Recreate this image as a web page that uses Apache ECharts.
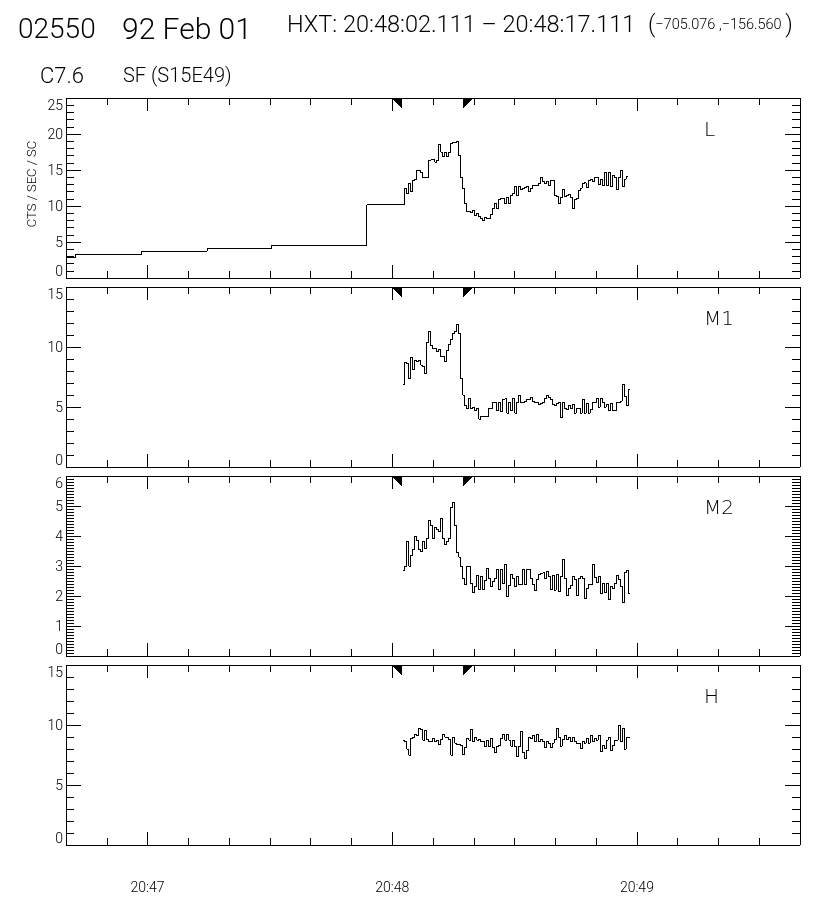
<!DOCTYPE html>
<html><head><meta charset="utf-8">
<script src="https://cdn.jsdelivr.net/npm/echarts@6/dist/echarts.min.js"></script>
<style>html,body{margin:0;padding:0;background:#fff}#c{width:816px;height:900px}
#c svg{will-change:transform}
#c svg path{shape-rendering:crispEdges}</style>
</head><body><div id="c"></div>
<script>
// ---- time axis (seconds after 20:46:00) ----
const X_MIN = 40, X_MAX = 220;              // 20:46:40 .. 20:49:40
const MAJOR_TICKS = [60, 120, 180];          // 20:47, 20:48, 20:49
const MAJOR_LABELS = ['20:47', '20:48', '20:49'];
const MINOR_TICKS = [50, 70, 80, 90, 100, 110, 130, 140, 150, 160, 170, 190, 200, 210];
const ACC_START = 122.111, ACC_END = 137.111; // HXT accumulation interval

// ---- L channel, quiet-mode (long) bins ----
const L_QUIET_TIMES  = [40, 42.3, 58.5, 74.6, 90.4, 113.8];
const L_QUIET_VALUES = [2.78, 3.24, 3.75, 4.07, 4.49, 10.14];

// ---- flare-mode bins ----
const BIN = 0.49;
const L_T0 = 123.04;
const L_VALUES = [12.5, 11.7, 13.1, 12.0, 13.6, 13.75, 15.0, 15.0, 14.6, 14.0,
  14.0, 14.0, 16.3, 16.4, 16.5, 16.1, 16.3, 18.5, 17.5, 16.9,
  17.5, 16.9, 17.5, 18.75, 18.8, 18.8, 18.9, 17.0, 13.9, 12.4,
  10.3, 9.2, 9.2, 9.1, 9.4, 8.7, 8.9, 8.6, 8.3, 8.0,
  8.4, 8.2, 8.2, 8.8, 9.6, 10.4, 9.7, 10.9, 11.1, 11.1,
  10.4, 11.25, 10.3, 11.5, 11.7, 12.7, 11.5, 12.7, 12.3, 12.45,
  12.6, 12.7, 12.0, 12.4, 12.8, 12.8, 12.9, 13.1, 14.0, 13.4,
  13.1, 13.4, 12.9, 13.5, 13.5, 11.5, 11.3, 10.3, 11.2, 12.3,
  11.3, 11.4, 11.6, 11.25, 9.7, 10.9, 11.0, 12.1, 12.5, 13.1,
  13.2, 12.6, 13.6, 13.7, 13.4, 14.0, 14.0, 13.0, 13.7, 12.8,
  14.6, 12.8, 14.7, 12.7, 14.3, 13.9, 12.3, 13.9, 14.9, 12.7, 13.75, 14.1];

const M_T0 = 122.55;
const M1_VALUES = [6.9,
  8.7, 8.6, 7.4, 9.1, 8.1, 8.9, 8.8, 8.9, 8.5, 8.4,
  7.8, 10.4, 11.3, 10.1, 9.9, 9.9, 9.6, 9.8, 9.2, 9.2,
  8.8, 9.75, 10.2, 10.6, 11.1, 11.3, 11.9, 11.1, 7.4, 6.0,
  5.15, 4.9, 5.7, 4.9, 5.0, 4.7, 4.9, 4.0, 4.2, 4.2,
  4.2, 4.2, 4.9, 4.9, 5.4, 5.4, 4.7, 5.4, 4.6, 5.65,
  5.7, 4.5, 5.35, 4.7, 5.7, 4.5, 5.35, 6.0, 5.35, 5.4,
  5.5, 5.6, 5.6, 5.8, 5.5, 5.4, 5.35, 5.2, 5.3, 5.4,
  5.7, 6.0, 5.8, 5.65, 5.25, 5.15, 5.3, 5.4, 4.1, 5.35,
  4.9, 4.8, 5.1, 4.9, 5.25, 4.5, 4.9, 4.9, 4.5, 5.6,
  4.5, 5.3, 4.5, 4.8, 5.35, 5.4, 5.7, 5.0, 5.7, 5.35,
  5.0, 5.25, 4.7, 5.3, 4.7, 4.7, 5.35, 5.4, 5.5, 6.9, 5.85, 5.1, 6.5];

const M2_VALUES = [2.84,
  2.98, 3.82, 3.0, 3.34, 3.54, 3.99, 3.84, 3.54, 3.49, 3.82,
  3.58, 3.93, 4.53, 4.35, 3.93, 4.29, 4.23, 4.16, 4.57, 3.93,
  3.71, 3.82, 3.93, 4.94, 5.11, 4.35, 3.45, 3.3, 2.98, 2.59,
  2.39, 2.98, 3.0, 2.42, 2.11, 2.31, 2.7, 2.23, 2.65, 2.22,
  2.51, 2.93, 2.59, 2.31, 2.48, 2.59, 2.87, 2.22, 2.9, 2.42,
  3.06, 1.98, 2.34, 2.73, 2.59, 2.31, 2.65, 2.37, 2.37, 2.87,
  2.37, 2.87, 2.89, 2.59, 2.37, 2.18, 2.54, 2.73, 2.76, 2.78,
  2.59, 2.82, 2.65, 2.22, 2.7, 2.2, 2.73, 2.15, 2.65, 3.21,
  2.59, 2.03, 2.26, 2.34, 2.65, 2.56, 2.03, 2.59, 2.65, 2.59,
  1.92, 2.26, 2.37, 2.37, 3.04, 2.61, 2.45, 2.65, 2.09, 2.42,
  2.11, 2.42, 1.87, 2.31, 2.26, 2.42, 2.67, 2.54, 2.31, 1.78, 2.78, 2.84, 2.09];

const H_VALUES = [8.75,
  8.6, 8.0, 7.5, 8.9, 9.0, 9.2, 9.1, 9.7, 9.6, 8.75,
  9.55, 8.8, 8.6, 8.65, 8.9, 8.65, 8.75, 8.4, 8.8, 9.2,
  9.0, 9.0, 8.8, 7.5, 9.0, 8.5, 8.4, 8.4, 8.3, 7.55,
  8.1, 8.9, 8.75, 9.6, 8.65, 9.0, 8.75, 8.8, 8.6, 8.65,
  8.2, 8.75, 8.2, 8.9, 8.1, 7.7, 8.2, 8.3, 8.9, 9.25,
  8.75, 9.2, 8.75, 8.25, 8.75, 8.2, 7.4, 8.25, 9.45, 7.7,
  7.2, 7.9, 9.0, 8.9, 9.1, 8.6, 9.25, 8.6, 8.8, 8.6,
  8.1, 8.6, 8.5, 8.1, 8.5, 8.8, 9.7, 9.0, 8.25, 8.8,
  9.1, 8.8, 9.0, 8.6, 9.0, 8.6, 8.5, 8.5, 8.05, 8.6,
  8.5, 8.9, 8.5, 9.1, 8.6, 8.9, 8.75, 9.1, 7.8, 8.3,
  8.05, 8.75, 9.0, 7.9, 8.3, 8.75, 8.75, 10.0, 8.6, 9.7, 8.0, 9.0, 9.0];

const PANEL_NAMES = ['L', 'M1', 'M2', 'H'];
const Y_MAX = [25, 15, 6, 15];
const Y_INTERVAL = [5, 5, 1, 5];
const Y_MINOR_SPLIT = [5, 5, 10, 5];

// ---- layout ----
const GRID_LEFT = 66, GRID_WIDTH = 734, GRID_HEIGHT = 180;
const GRID_TOPS = [98, 287, 476, 665];
const FONT = 'DejaVu Sans';
const TITLE_FONT = 'Roboto';
const LW = 1;

function stepData(t0, values) {
  const d = values.map((v, i) => [t0 + i * BIN, v]);
  d.push([t0 + values.length * BIN, values[values.length - 1]]);
  return d;
}
const SERIES_DATA = [
  L_QUIET_TIMES.map((t, i) => [t, L_QUIET_VALUES[i]]).concat(stepData(L_T0, L_VALUES)),
  stepData(M_T0, M1_VALUES),
  stepData(M_T0, M2_VALUES),
  stepData(M_T0, H_VALUES)
];

const lineStyle = {color: '#000', width: LW};
const grids = [], xAxes = [], yAxes = [], series = [], graphics = [];

GRID_TOPS.forEach((top, i) => {
  grids.push({left: GRID_LEFT, width: GRID_WIDTH, top: top, height: GRID_HEIGHT, containLabel: false});
  const baseX = {gridIndex: i, type: 'value', min: X_MIN, max: X_MAX, splitLine: {show: false}, silent: true};
  ['bottom', 'top'].forEach(pos => {
    xAxes.push(Object.assign({}, baseX, {
      position: pos,
      axisLine: {show: true, onZero: false, lineStyle},
      axisTick: {show: true, inside: true, length: 13, customValues: MAJOR_TICKS, lineStyle},
      axisLabel: {show: pos === 'bottom' && i === 3, customValues: MAJOR_TICKS,
        formatter: v => MAJOR_LABELS[MAJOR_TICKS.indexOf(Math.round(v))],
        color: '#000', fontFamily: TITLE_FONT, fontWeight: 300, fontSize: 14, margin: 35}
    }));
    xAxes.push(Object.assign({}, baseX, {
      position: pos,
      axisLine: {show: false, onZero: false},
      axisTick: {show: true, inside: true, length: 7, customValues: MINOR_TICKS, lineStyle},
      axisLabel: {show: false}
    }));
  });
  ['left', 'right'].forEach(pos => {
    yAxes.push({
      gridIndex: i, type: 'value', position: pos, min: 0, max: Y_MAX[i], interval: Y_INTERVAL[i],
      splitLine: {show: false}, minorSplitLine: {show: false},
      axisLine: {show: true, onZero: false, lineStyle},
      axisTick: {show: true, inside: true, length: 15, lineStyle},
      minorTick: {show: true, splitNumber: Y_MINOR_SPLIT[i], length: 8, lineStyle},
      axisLabel: {show: pos === 'left', color: '#000', fontFamily: TITLE_FONT, fontWeight: 300, fontSize: 14, margin: 3,
        verticalAlignMaxLabel: 'top', verticalAlignMinLabel: 'bottom'}
    });
  });
  series.push({
    type: 'line', xAxisIndex: i * 4, yAxisIndex: i * 2, data: SERIES_DATA[i], step: 'end',
    showSymbol: false, symbol: 'none', lineStyle: {color: '#000', width: 1}, animation: false, silent: true
  });
  // accumulation-interval markers
  series.push({
    type: 'custom', xAxisIndex: i * 4, yAxisIndex: i * 2, data: [[ACC_START, ACC_END]], animation: false, silent: true,
    renderItem: (params, api) => {
      const p1 = api.coord([api.value(0), Y_MAX[i]]);
      const p2 = api.coord([api.value(1), Y_MAX[i]]);
      return {type: 'group', children: [
        {type: 'polygon', shape: {points: [[p1[0] - 9, p1[1]], [p1[0] + 1, p1[1]], [p1[0] + 1, p1[1] + 10]]}, style: {fill: '#000'}},
        {type: 'polygon', shape: {points: [[p2[0] + 1, p2[1]], [p2[0] + 12, p2[1]], [p2[0] + 1, p2[1] + 10]]}, style: {fill: '#000'}}
      ]};
    }
  });
  graphics.push({type: 'text', left: 704, top: top + 21,
    style: {text: PANEL_NAMES[i], fontFamily: FONT, fontWeight: 200, fontSize: 20, fill: '#000'}});
});

const tStyle = (size) => ({fontFamily: TITLE_FONT, fontWeight: 300, fontSize: size, fill: '#000'});
graphics.push(
  {type: 'text', left: 18, top: 14, style: Object.assign({text: '02550'}, tStyle(28))},
  {type: 'text', left: 122, top: 13, style: Object.assign({text: '92 Feb 01'}, tStyle(30))},
  {type: 'text', left: 287, top: 12, style: Object.assign({text: 'HXT: 20:48:02.111 \u2013 20:48:17.111'}, tStyle(23.5))},
  {type: 'text', left: 648, top: 13, style: {
    text: '{p|(}{n|\u2212705.076 ,\u2212156.560 }{p|)}',
    rich: {p: tStyle(23), n: tStyle(14.5)},
    fill: '#000'}},
  {type: 'text', left: 40, top: 64, style: Object.assign({text: 'C7.6'}, tStyle(22))},
  {type: 'text', left: 123, top: 65, style: Object.assign({text: 'SF (S15E49)'}, tStyle(20))},
  {type: 'text', x: 31, y: 184, rotation: Math.PI / 2,
    style: {text: 'CTS / SEC / SC', fontFamily: TITLE_FONT, fontWeight: 300, fontSize: 13, fill: '#000', align: 'center', verticalAlign: 'middle'}}
);

const chart = echarts.init(document.getElementById('c'), null, {renderer: 'svg'});
chart.setOption({
  animation: false,
  backgroundColor: '#fff',
  grid: grids, xAxis: xAxes, yAxis: yAxes, series: series, graphic: graphics
});
</script>
</body></html>
